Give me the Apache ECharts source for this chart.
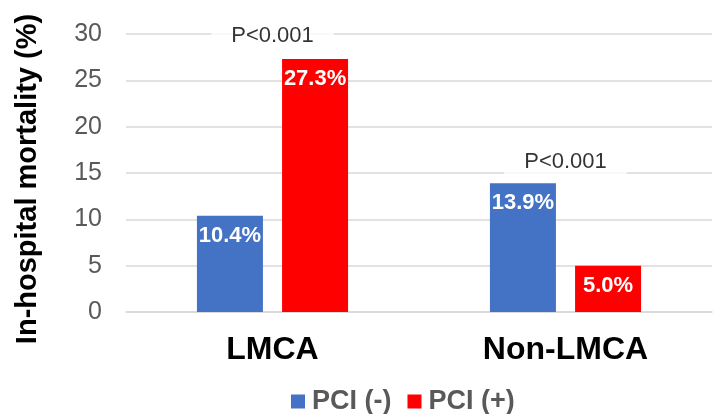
<!DOCTYPE html>
<html>
<head>
<meta charset="utf-8">
<script src="https://cdn.jsdelivr.net/npm/echarts@6/dist/echarts.min.js"></script>
<style>
html,body{margin:0;padding:0;background:#fff;}
#main{width:716px;height:414px;}
</style>
</head>
<body>
<div id="main"></div>
<script>
var categories = ['LMCA', 'Non-LMCA'];
var seriesNames = ['PCI (-)', 'PCI (+)'];
var pciMinus = [10.4, 13.9];
var pciPlus = [27.3, 5.0];
var yTicks = [0, 5, 10, 15, 20, 25, 30];
var annotationCategories = ['LMCA', 'Non-LMCA'];
var annotationY = [29.8, 16.2];
var annotationText = ['P<0.001', 'P<0.001'];

var FONT = '"Liberation Sans", Arial, sans-serif';
var chart = echarts.init(document.getElementById('main'), null, {renderer: 'canvas'});

var barLabel = {
  show: true,
  position: 'insideTop',
  distance: 9,
  color: '#ffffff',
  fontWeight: 'bold',
  fontSize: 22,
  fontFamily: FONT,
  formatter: function (p) { return p.value.toFixed(1) + '%'; }
};

chart.setOption({
  animation: false,
  backgroundColor: '#ffffff',
  textStyle: {fontFamily: FONT},
  grid: {left: 126, right: 4, top: 34, bottom: 102, containLabel: false},
  legend: {
    data: seriesNames,
    left: 286,
    top: 383,
    itemWidth: 14,
    itemHeight: 14,
    itemGap: 16,
    icon: 'rect',
    textStyle: {fontSize: 27, fontWeight: 'bold', color: '#595959', fontFamily: FONT, padding: [0, 0, 0, 2]}
  },
  xAxis: {
    type: 'category',
    data: categories,
    axisLine: {show: true, lineStyle: {color: '#d9d9d9', width: 1.5}},
    axisTick: {show: false},
    axisLabel: {fontSize: 32, fontWeight: 'bold', color: '#000000', margin: 22, fontFamily: FONT}
  },
  yAxis: {
    type: 'value',
    min: yTicks[0],
    max: yTicks[yTicks.length - 1],
    interval: 5,
    name: 'In-hospital mortality (%)',
    nameLocation: 'middle',
    nameGap: 84,
    nameTextStyle: {fontSize: 29, fontWeight: 'bold', color: '#000000', fontFamily: FONT, padding: [0, 12, 0, 0]},
    axisLine: {show: false},
    axisTick: {show: false},
    splitLine: {lineStyle: {color: '#d9d9d9', width: 1.5}},
    axisLabel: {fontSize: 25, color: '#595959', margin: 24, fontFamily: FONT}
  },
  series: [
    {
      name: seriesNames[0],
      type: 'bar',
      data: pciMinus,
      barWidth: 66,
      barGap: '29%',
      itemStyle: {color: '#4472C4'},
      label: barLabel
    },
    {
      name: seriesNames[1],
      type: 'bar',
      data: pciPlus,
      barWidth: 66,
      barGap: '29%',
      itemStyle: {color: '#FF0000'},
      label: barLabel
    },
    {
      name: 'annotations',
      type: 'scatter',
      symbolSize: 0,
      silent: true,
      data: annotationCategories.map(function (c, i) {
        return {value: [c, annotationY[i]], text: annotationText[i]};
      }),
      label: {
        show: true,
        position: 'inside',
        formatter: function (p) { return p.data.text; },
        fontSize: 22,
        color: '#000000',
        fontFamily: FONT,
        backgroundColor: '#ffffff',
        padding: [4, 20]
      },
      z: 10
    }
  ]
});
</script>
</body>
</html>
